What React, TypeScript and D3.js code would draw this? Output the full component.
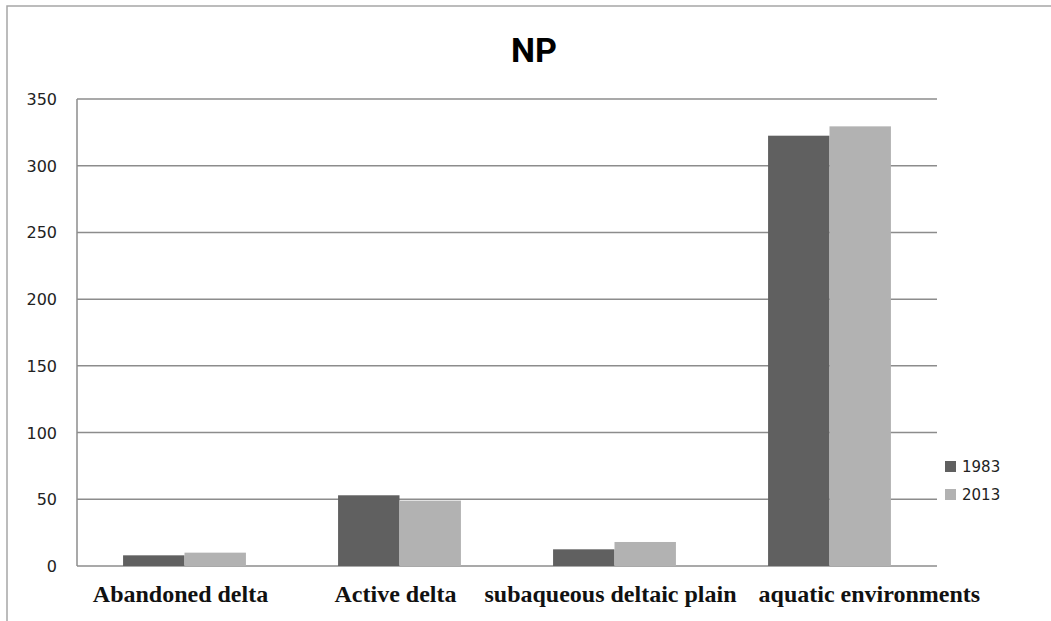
import React, { useEffect, useRef } from 'react';
import * as d3 from 'd3';

const categories: string[] = [
  'Abandoned delta',
  'Active delta',
  'subaqueous deltaic plain',
  'aquatic environments',
];
const seriesNames: string[] = ['1983', '2013'];
const values1983: number[] = [8, 53, 12.5, 322.5];
const values2013: number[] = [10, 49, 18, 329.5];
const yTicks: number[] = [0, 50, 100, 150, 200, 250, 300, 350];

const colors = ['#606060', '#b2b2b2'];

const App = () => {
  const svgRef = useRef<SVGSVGElement>(null);

  const w = 1051;
  const h = 621;
  const left = 77;
  const right = 937;
  const top = 99;
  const bottom = 566;

  useEffect(() => {
    const svg = d3.select(svgRef.current);
    svg.selectAll('*').remove();

    // frame
    svg
      .append('rect')
      .attr('x', 7)
      .attr('y', 6)
      .attr('width', w + 20)
      .attr('height', h + 20)
      .attr('fill', '#fff')
      .attr('stroke', '#a6a6a6')
      .attr('stroke-width', 1.5);

    const x0 = d3.scaleBand<string>().domain(categories).range([left, right]).paddingInner(0).paddingOuter(0);
    const x1 = d3
      .scaleBand<string>()
      .domain(seriesNames)
      .range([0, x0.bandwidth()])
      .paddingInner(0)
      .paddingOuter(0.75);
    const y = d3.scaleLinear().domain([0, 350]).range([bottom, top]);

    // gridlines
    svg
      .append('g')
      .selectAll('line')
      .data(yTicks)
      .join('line')
      .attr('x1', left)
      .attr('x2', right)
      .attr('y1', (d) => y(d))
      .attr('y2', (d) => y(d))
      .attr('stroke', '#8c8c8c')
      .attr('stroke-width', 1.5);

    svg
      .append('line')
      .attr('x1', left)
      .attr('x2', left)
      .attr('y1', top)
      .attr('y2', bottom)
      .attr('stroke', '#8c8c8c')
      .attr('stroke-width', 1.5);

    // y labels
    svg
      .append('g')
      .selectAll('text')
      .data(yTicks)
      .join('text')
      .attr('x', 57)
      .attr('y', (d) => y(d) + 6)
      .attr('text-anchor', 'end')
      .attr('font-family', 'DejaVu Sans')
      .attr('font-size', 16)
      .attr('fill', '#222')
      .text((d) => d);

    // bars
    const series = [values1983, values2013];
    series.forEach((vals, si) => {
      svg
        .append('g')
        .selectAll('rect')
        .data(vals)
        .join('rect')
        .attr('x', (_, i) => (x0(categories[i]) as number) + (x1(seriesNames[si]) as number))
        .attr('y', (d) => y(d))
        .attr('width', x1.bandwidth())
        .attr('height', (d) => bottom - y(d))
        .attr('fill', colors[si]);
    });

    // category labels, pushed right if they would overlap
    const labels = svg
      .append('g')
      .selectAll('text')
      .data(categories)
      .join('text')
      .attr('y', 602)
      .attr('font-family', 'Liberation Serif')
      .attr('font-weight', 'bold')
      .attr('font-size', 24)
      .attr('fill', '#111')
      .text((d) => d);
    let prevEnd = -Infinity;
    labels.each(function (d) {
      const t = this as SVGTextElement;
      const tw = t.getComputedTextLength();
      const c = (x0(d) as number) + x0.bandwidth() / 2 - 4;
      const start = Math.max(c - tw / 2, prevEnd + 22);
      prevEnd = start + tw;
      d3.select(t).attr('x', start);
    });

    // title
    svg
      .append('text')
      .attr('x', 534)
      .attr('y', 62)
      .attr('text-anchor', 'middle')
      .attr('font-family', 'Roboto')
      .attr('font-weight', 'bold')
      .attr('font-size', 34)
      .attr('fill', '#000')
      .text('NP');

    // legend
    const lg = svg.append('g').selectAll('g').data(seriesNames).join('g');
    lg.append('rect')
      .attr('x', 945)
      .attr('y', (_, i) => 461 + i * 28)
      .attr('width', 11)
      .attr('height', 11)
      .attr('fill', (_, i) => colors[i]);
    lg.append('text')
      .attr('x', 962)
      .attr('y', (_, i) => 472 + i * 28)
      .attr('font-family', 'DejaVu Sans')
      .attr('font-size', 15)
      .attr('fill', '#222')
      .text((d) => d);
  }, []);

  return <svg ref={svgRef} width={w} height={h} style={{ position: 'absolute', left: 0, top: 0, background: '#fff' }} />;
};

export default App;
